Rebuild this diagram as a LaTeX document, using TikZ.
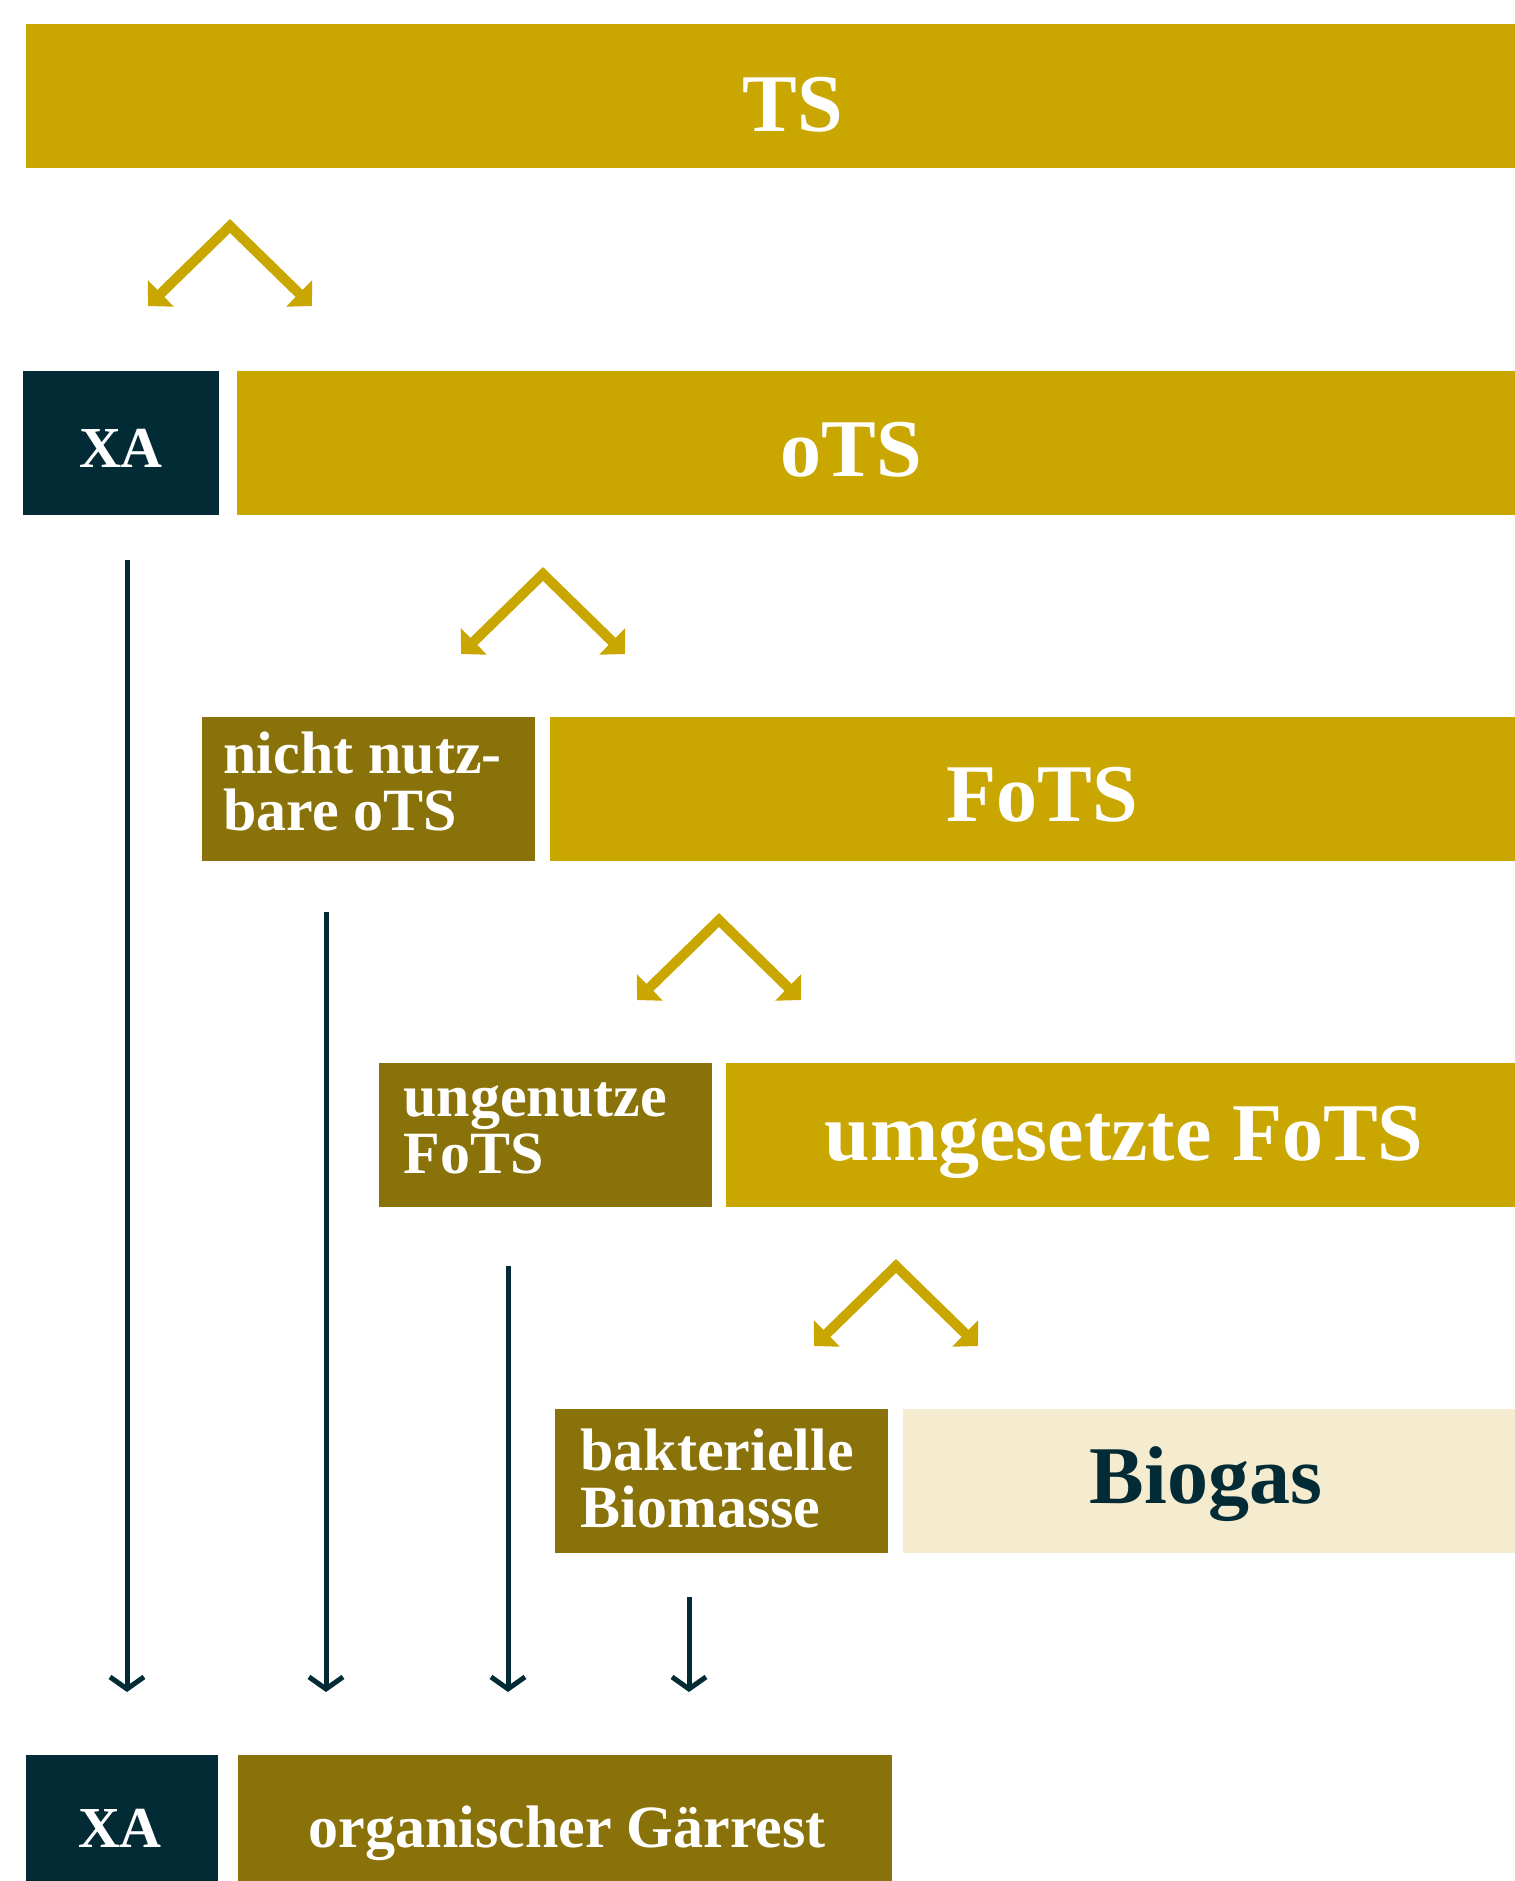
\documentclass[tikz,border=0pt]{standalone}
\usepackage{fontspec}
\setmainfont{Liberation Serif}
\usetikzlibrary{arrows.meta}
\definecolor{gold}{HTML}{C9A700}
\definecolor{olive}{HTML}{8A720A}
\definecolor{ink}{HTML}{022B35}
\definecolor{pale}{HTML}{F5ECD0}
\newcommand{\lblbig}{\fontsize{41}{41}\selectfont\bfseries}
\newcommand{\lblsmall}{\fontsize{30}{28.5}\selectfont\bfseries}
\begin{document}
\begin{tikzpicture}[x=0.5pt,y=-0.5pt,
  box/.style={anchor=north west, inner sep=0pt, outer sep=0pt, minimum height=72pt},
  goldbox/.style={box, fill=gold},
  olivebox/.style={box, fill=olive},
  inkbox/.style={box, fill=ink},
  palebox/.style={box, fill=pale},
  bigtxt/.style={anchor=base, inner sep=0pt, text=white, font=\lblbig},
  xatxt/.style={anchor=base, inner sep=0pt, text=white, font=\fontsize{29}{29}\selectfont\bfseries},
  smalltxt/.style={anchor=base west, inner sep=0pt, text=white, align=left, font=\lblsmall},
  chev/.style={draw=gold, line width=5pt, line join=miter, {Triangle[length=9pt,width=18pt]}-{Triangle[length=9pt,width=18pt]}},
  downarr/.style={draw=ink, line width=2.5pt, -{Straight Barb[length=6pt,width=17pt,line width=2.5pt]}}
]
\useasboundingbox (0,0) rectangle (1515,1881);

% row 1
\node[goldbox, minimum width=744.5pt] (ts) at (26,24) {};
\node[bigtxt] (tsT) at (793,131) {TS};

% row 2
\node[inkbox, minimum width=98pt] (xa) at (23,371) {};
\node[xatxt] (xaT) at (121,467) {XA};
\node[goldbox, minimum width=639pt] (ots) at (237,371) {};
\node[bigtxt] (otsT) at (851,476) {oTS};

% row 3
\node[olivebox, minimum width=166.5pt] (nn) at (202,717) {};
\node[smalltxt] (nnT) at (223,830) {nicht nutz-\\bare oTS};
\node[goldbox, minimum width=482.5pt] (fots) at (550,717) {};
\node[bigtxt] (fotsT) at (1042,821) {FoTS};

% row 4
\node[olivebox, minimum width=166.5pt] (ug) at (379,1063) {};
\node[smalltxt] (ugT) at (403,1173) {ungenutze\\FoTS};
\node[goldbox, minimum width=394.5pt] (um) at (726,1063) {};
\node[bigtxt] (umT) at (1124,1160) {umgesetzte FoTS};

% row 5
\node[olivebox, minimum width=166.5pt] (bb) at (555,1409) {};
\node[smalltxt] (bbT) at (580,1527) {bakterielle\\Biomasse};
\node[palebox, minimum width=306pt] (bg) at (903,1409) {};
\node[bigtxt, text=ink] (bgT) at (1206,1503) {Biogas};

% bottom row
\node[inkbox, minimum width=96pt] (xb) at (26,1755) {};
\node[xatxt] (xbT) at (120,1847) {XA};
\node[olivebox, minimum width=327pt] (gr) at (238,1755) {};
\node[xatxt, font=\fontsize{30}{30}\selectfont\bfseries] (grT) at (567,1847) {organischer Gärrest};

% chevrons
\coordinate (c1) at (230,226);
\coordinate (c1l) at (148,306);
\coordinate (c1r) at (312,306);
\draw[chev] (c1l) -- (c1) -- (c1r);
\coordinate (c2) at (543,574);
\coordinate (c2l) at (461,654);
\coordinate (c2r) at (625,654);
\draw[chev] (c2l) -- (c2) -- (c2r);
\coordinate (c3) at (719,920);
\coordinate (c3l) at (637,1000);
\coordinate (c3r) at (801,1000);
\draw[chev] (c3l) -- (c3) -- (c3r);
\coordinate (c4) at (896,1266);
\coordinate (c4l) at (814,1346);
\coordinate (c4r) at (978,1346);
\draw[chev] (c4l) -- (c4) -- (c4r);

% down arrows
\coordinate (d1s) at (127,560);
\coordinate (d1e) at (127,1692);
\coordinate (d2s) at (326,912);
\coordinate (d2e) at (326,1692);
\coordinate (d3s) at (508,1266);
\coordinate (d3e) at (508,1692);
\coordinate (d4s) at (689,1597);
\coordinate (d4e) at (689,1692);
\draw[downarr] (d1s) -- (d1e);
\draw[downarr] (d2s) -- (d2e);
\draw[downarr] (d3s) -- (d3e);
\draw[downarr] (d4s) -- (d4e);
\end{tikzpicture}
\end{document}
